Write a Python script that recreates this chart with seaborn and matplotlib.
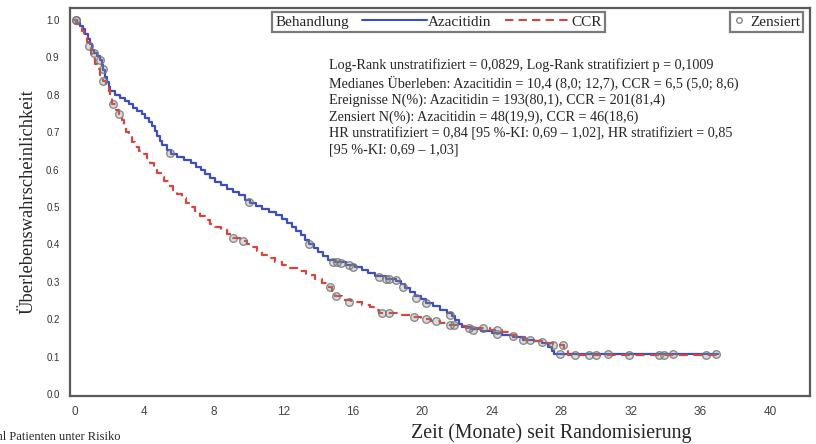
import numpy as np
import pandas as pd
import matplotlib
matplotlib.use("Agg")
import matplotlib.pyplot as plt
import seaborn as sns
from matplotlib.lines import Line2D

# Kaplan-Meier steps (months, survival)
aza_time = [0, 0.15, 0.3, 0.45, 0.6, 0.75, 0.9, 1.0, 1.1, 1.3, 1.45, 1.55, 1.65, 1.75, 1.85,
            1.95, 2.05, 2.3, 2.6, 2.9, 3.1, 3.35, 3.6, 3.85, 4.05, 4.25, 4.45, 4.6, 4.75,
            4.9, 5.05, 5.3, 5.55, 5.9, 6.3, 6.7, 7.0, 7.25, 7.5, 7.8, 8.1, 8.4, 8.75, 9.1,
            9.45, 9.8, 10.1, 10.45, 10.8, 11.2, 11.6, 11.9, 12.2, 12.5, 12.75, 13.0, 13.25,
            13.5, 13.75, 14.0, 14.3, 14.6, 15.0, 15.6, 16.1, 16.5, 16.9, 17.3, 17.9, 18.5,
            18.8, 19.0, 19.3, 19.6, 19.9, 20.2, 20.6, 21.0, 21.4, 21.7, 21.9, 22.1, 22.3,
            22.8, 23.4, 24.0, 24.6, 25.2, 25.8, 26.4, 26.9, 27.2, 27.45, 27.6, 37.0]
aza_surv = [1.0, 0.992, 0.983, 0.975, 0.963, 0.95, 0.935, 0.92, 0.912, 0.905, 0.893, 0.88,
            0.865, 0.848, 0.835, 0.822, 0.81, 0.80, 0.792, 0.783, 0.775, 0.766, 0.757, 0.748,
            0.738, 0.728, 0.716, 0.703, 0.69, 0.677, 0.665, 0.652, 0.642, 0.633, 0.625, 0.617,
            0.608, 0.598, 0.588, 0.578, 0.568, 0.559, 0.549, 0.54, 0.531, 0.52, 0.512, 0.504,
            0.496, 0.488, 0.478, 0.468, 0.458, 0.447, 0.436, 0.425, 0.413, 0.402, 0.39, 0.379,
            0.368, 0.358, 0.352, 0.346, 0.34, 0.332, 0.323, 0.315, 0.309, 0.303, 0.294, 0.284,
            0.274, 0.263, 0.253, 0.244, 0.235, 0.226, 0.217, 0.208, 0.198, 0.188, 0.18, 0.175,
            0.17, 0.164, 0.158, 0.152, 0.146, 0.141, 0.136, 0.125, 0.115, 0.107, 0.107]

ccr_time = [0, 0.1, 0.25, 0.4, 0.55, 0.7, 0.85, 0.95, 1.05, 1.15, 1.3, 1.45, 1.6, 1.8, 1.95,
            2.05, 2.15, 2.35, 2.55, 2.7, 2.85, 2.98, 3.15, 3.3, 3.45, 3.7, 3.95, 4.15, 4.35,
            4.55, 4.75, 4.95, 5.15, 5.4, 5.65, 5.9, 6.15, 6.4, 6.65, 6.9, 7.2, 7.5, 7.8, 8.1,
            8.4, 8.75, 9.1, 9.5, 9.9, 10.2, 10.5, 10.8, 11.1, 11.5, 11.9, 12.4, 12.9, 13.3,
            13.8, 14.2, 14.5, 14.8, 15.0, 15.4, 15.9, 16.5, 17.0, 17.3, 17.5, 18.8, 19.4,
            19.9, 20.5, 21.0, 21.5, 22.0, 22.5, 23.9, 24.6, 25.0, 25.4, 25.9, 26.4, 27.0,
            27.5, 28.15, 28.35, 37.0]
ccr_surv = [1.0, 0.99, 0.98, 0.97, 0.955, 0.94, 0.925, 0.91, 0.895, 0.882, 0.868, 0.852,
            0.838, 0.826, 0.81, 0.792, 0.775, 0.76, 0.748, 0.732, 0.716, 0.70, 0.688, 0.673,
            0.66, 0.65, 0.641, 0.63, 0.617, 0.604, 0.592, 0.58, 0.569, 0.557, 0.546, 0.536,
            0.524, 0.512, 0.5, 0.489, 0.477, 0.466, 0.456, 0.447, 0.438, 0.428, 0.418, 0.41,
            0.401, 0.392, 0.382, 0.372, 0.363, 0.354, 0.345, 0.338, 0.328, 0.318, 0.309, 0.298,
            0.287, 0.274, 0.262, 0.252, 0.245, 0.238, 0.232, 0.224, 0.216, 0.211, 0.205, 0.2,
            0.195, 0.19, 0.185, 0.181, 0.176, 0.171, 0.165, 0.158, 0.152, 0.146, 0.142, 0.137,
            0.132, 0.12, 0.105, 0.105]

# censored observations
aza_cens_time = [0.1, 1.1, 1.45, 1.6, 5.5, 10.0, 13.5, 14.85, 15.1, 15.3, 15.8, 16.0, 17.5,
                 17.9, 18.1, 18.5, 18.9, 19.65, 20.2, 21.6, 22.9, 24.3, 25.8, 26.9, 27.9,
                 30.7, 34.4, 36.9]
aza_cens_surv = [1.0, 0.912, 0.893, 0.87, 0.645, 0.514, 0.40, 0.354, 0.352, 0.350, 0.345,
                 0.340, 0.314, 0.309, 0.307, 0.305, 0.287, 0.258, 0.244, 0.211, 0.171, 0.161,
                 0.146, 0.138, 0.107, 0.107, 0.107, 0.107]
ccr_cens_time = [0.05, 0.8, 1.6, 2.2, 2.56, 9.1, 9.7, 14.7, 15.06, 15.8, 17.7, 18.1, 19.5,
                 20.2, 20.8, 21.6, 21.8, 22.7, 23.5, 24.3, 25.2, 26.2, 27.5, 28.1, 28.8,
                 29.6, 30.0, 31.9, 33.6, 33.9, 36.3]
ccr_cens_surv = [1.0, 0.93, 0.838, 0.775, 0.748, 0.418, 0.41, 0.287, 0.262, 0.245, 0.216,
                 0.216, 0.205, 0.2, 0.195, 0.185, 0.185, 0.176, 0.176, 0.171, 0.155, 0.144,
                 0.132, 0.132, 0.105, 0.105, 0.105, 0.105, 0.105, 0.105, 0.105]

x_ticks = [0, 4, 8, 12, 16, 20, 24, 28, 32, 36, 40]
y_ticks = [0.0, 0.1, 0.2, 0.3, 0.4, 0.5, 0.6, 0.7, 0.8, 0.9, 1.0]

stats_text = ("Log-Rank unstratifiziert = 0,0829, Log-Rank stratifiziert p = 0,1009\n"
              "Medianes Überleben: Azacitidin = 10,4 (8,0; 12,7), CCR = 6,5 (5,0; 8,6)\n"
              "Ereignisse N(%): Azacitidin = 193(80,1), CCR = 201(81,4)\n"
              "Zensiert N(%): Azacitidin = 48(19,9), CCR = 46(18,6)\n"
              "HR unstratifiziert = 0,84 [95 %-KI: 0,69 – 1,02], HR stratifiziert = 0,85\n"
              "[95 %-KI: 0,69 – 1,03]")

blue = "#3b4fbf"
red = "#d4463f"
frame = "#5a5a5a"

sns.set_style("white")
serif = ["Liberation Serif", "DejaVu Serif"]
sans = ["Liberation Sans", "DejaVu Sans"]

fig = plt.figure(figsize=(8.16, 4.44), dpi=100)
ax = fig.add_axes([70 / 816, 1 - 396 / 444, 740 / 816, 388 / 444])

aza = pd.DataFrame({"t": aza_time, "s": aza_surv})
ccr = pd.DataFrame({"t": ccr_time, "s": ccr_surv})

sns.lineplot(data=aza, x="t", y="s", ax=ax, color=blue, lw=1.6,
             drawstyle="steps-post", estimator=None, sort=False)
sns.lineplot(data=ccr, x="t", y="s", ax=ax, color=red, lw=1.6,
             drawstyle="steps-post", estimator=None, sort=False,
             linestyle=(0, (4, 2.5)))

mk = dict(s=30, marker="o", facecolor=(0.55, 0.55, 0.55, 0.3),
          edgecolor=(0.45, 0.45, 0.45, 0.8), linewidth=1.0, zorder=3)
sns.scatterplot(x=aza_cens_time, y=aza_cens_surv, ax=ax, **mk)
sns.scatterplot(x=ccr_cens_time, y=ccr_cens_surv, ax=ax, **mk)

ax.set_xlim(-0.27, 42.3)
ax.set_ylim(-0.005, 1.032)
ax.set_xticks(x_ticks)
ax.set_yticks(y_ticks)
ax.set_xticklabels([str(v) for v in x_ticks], fontsize=8.5, color="#444444", family=sans)
ax.set_yticklabels(["%.1f" % v for v in y_ticks], fontsize=7, color="#333333", family=sans)
ax.tick_params(axis="both", direction="out", length=4, width=1, color=frame)
ax.tick_params(axis="x", pad=3)
for sp in ax.spines.values():
    sp.set_color(frame)
    sp.set_linewidth(1.6)

ax.set_xlabel("Zeit (Monate) seit Randomisierung", fontsize=14.3, family=serif)
ax.xaxis.set_label_coords(0.651, -0.07)
ax.set_ylabel("Überlebenswahrscheinlichkeit", fontsize=13.3, family=serif, labelpad=7)

fig.text(329 / 816, 1 - 58 / 444, stats_text, fontsize=10.2, family=serif,
         va="top", ha="left", linespacing=1.3)

# treatment legend with the title on the left
handles = [Line2D([], [], color=blue, lw=1.5),
           Line2D([], [], color=red, lw=1.5, linestyle=(0, (4, 2.5)))]
leg = ax.legend(handles, ["Azacitidin", "CCR"], title="Behandlung", ncol=2,
                loc="upper left", bbox_to_anchor=(272 / 816, 1 - 12 / 444),
                bbox_transform=fig.transFigure, frameon=True, fancybox=False,
                prop={"family": serif, "size": 11}, handlelength=4.2,
                handletextpad=0.1, columnspacing=0.9, borderpad=0.2,
                borderaxespad=0)
leg.get_title().set_fontproperties({"family": serif, "size": 11})
box = leg.get_children()[0]
title_box, hpack = box.get_children()
box._children = [hpack]
hpack._children = [title_box] + hpack.get_children()
leg.get_frame().set_edgecolor(frame)
leg.get_frame().set_linewidth(1.6)
ax.add_artist(leg)

cens_handle = Line2D([], [], marker="o", ls="none", markersize=4,
                     markerfacecolor="white", markeredgecolor="#888888")
leg2 = ax.legend([cens_handle], ["Zensiert"], loc="upper right",
                 bbox_to_anchor=(803 / 816, 1 - 12 / 444), bbox_transform=fig.transFigure,
                 frameon=True, fancybox=False, prop={"family": serif, "size": 11},
                 handlelength=0.8, handletextpad=0.3, borderpad=0.2, borderaxespad=0)
leg2.get_frame().set_edgecolor(frame)
leg2.get_frame().set_linewidth(1.6)

fig.text(120 / 816, 1 - 437 / 444, "Anzahl Patienten unter Risiko", fontsize=9,
         family=serif, ha="right", va="center")

fig.savefig("out.png", dpi=100)
